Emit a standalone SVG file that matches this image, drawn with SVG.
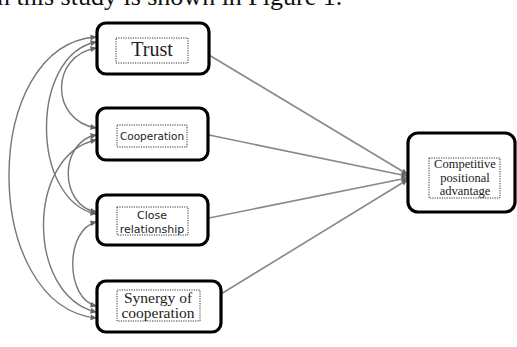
<svg xmlns="http://www.w3.org/2000/svg" width="517" height="347" viewBox="0 0 517 347">
<defs>
<marker id="ah" viewBox="0 0 10 10" refX="9" refY="5" markerWidth="7" markerHeight="6" markerUnits="userSpaceOnUse" orient="auto-start-reverse">
<path d="M0,0 L10,5 L0,10 z" fill="#666"/>
</marker>
<style>
.box{fill:#fff;stroke:#000;stroke-width:3.2}
.inner{fill:none;stroke:#333;stroke-width:1;stroke-dasharray:1.2 1.2}
.curve{fill:none;stroke:#777;stroke-width:1.4;marker-start:url(#ah);marker-end:url(#ah)}
.line{fill:none;stroke:#888;stroke-width:1.6;marker-end:url(#ah)}
.serif{font-family:"Liberation Serif","Times New Roman",serif;fill:#222;text-anchor:middle}
.sans{font-family:"DejaVu Sans","Liberation Sans",sans-serif;fill:#222;text-anchor:middle}
</style>
</defs>
<rect width="517" height="347" fill="#fff"/>
<text x="-3" y="5" font-family="Liberation Serif, serif" font-size="26" fill="#111">n this study is shown in Figure 1.</text>

<g id="connectors">
<path class="curve" d="M96,37 C-20,45 -20,305 96,318"/>
<path class="curve" d="M96,42 C30,55 30,200 96,214"/>
<path class="curve" d="M96,48 C50,56 50,120 96,128"/>
<path class="curve" d="M96,135 C59,142 59,205 96,212"/>
<path class="curve" d="M96,140 C26,155 26,295 96,312"/>
<path class="curve" d="M96,222 C65,230 65,298 96,306"/>
<path class="line" d="M209,55 L407,174"/>
<path class="line" d="M209,135 L407,176"/>
<path class="line" d="M209,218 L407,178"/>
<path class="line" d="M221,294 L407,180"/>
</g>

<g id="trust">
<rect class="box" x="97" y="23" width="112" height="51" rx="9"/>
<rect class="inner" x="116" y="38" width="72" height="25"/>
<text class="serif" x="152" y="56" font-size="20">Trust</text>
</g>
<g id="cooperation">
<rect class="box" x="97" y="108" width="111" height="52" rx="9"/>
<rect class="inner" x="117" y="125" width="70" height="22"/>
<text class="sans" x="152" y="140" font-size="10.5">Cooperation</text>
</g>
<g id="close-relationship">
<rect class="box" x="97" y="195" width="111" height="50" rx="9"/>
<rect class="inner" x="117" y="207" width="71" height="28"/>
<text class="sans" x="152" y="219" font-size="11">Close</text>
<text class="sans" x="152" y="233" font-size="11">relationship</text>
</g>
<g id="synergy">
<rect class="box" x="97" y="281" width="124" height="51" rx="9"/>
<rect class="inner" x="117" y="290" width="83" height="31"/>
<text class="serif" x="158" y="303" font-size="15.5">Synergy of</text>
<text class="serif" x="158" y="318" font-size="15.5">cooperation</text>
</g>
<g id="competitive">
<rect class="box" x="408" y="133" width="107" height="79" rx="10"/>
<rect class="inner" x="429" y="158" width="71" height="40"/>
<text class="serif" x="465" y="168" font-size="12.5">Competitive</text>
<text class="serif" x="465" y="182" font-size="12.5">positional</text>
<text class="serif" x="465" y="195" font-size="12.5">advantage</text>
</g>
</svg>
